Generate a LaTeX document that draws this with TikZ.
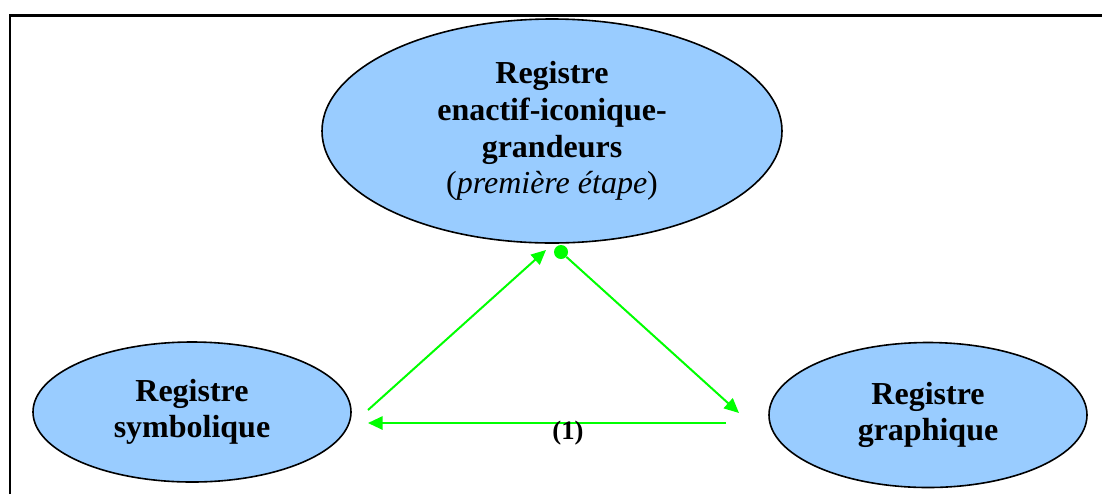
\documentclass[tikz,border=0pt]{standalone}
\usepackage{fontspec}
\setmainfont{Liberation Serif}
\usetikzlibrary{arrows.meta,shapes.geometric}
\definecolor{regblue}{HTML}{99CCFF}
\definecolor{linkgreen}{HTML}{00FF00}
\tikzset{
  regbox/.style={ellipse, draw=black, line width=1.2pt, fill=regblue, inner sep=0pt,
    align=center, font=\fontsize{24}{27.5}\selectfont\bfseries},
  link/.style={draw=linkgreen, line width=1.5pt},
  linkarrow/.style={link, -{Triangle[length=11pt,width=10pt]}},
  frameline/.style={draw=black, line width=1.6pt}
}
\begin{document}
\begin{tikzpicture}[x=0.75pt, y=-0.75pt]
\useasboundingbox (0,0) rectangle (1102,494);
\fill[white] (0,0) rectangle (1102,494);
\draw[frameline] (10,494) -- (10,15.5) -- (1102,15.5);

\node[regbox, minimum width=460*0.75pt, minimum height=224*0.75pt] (top) at (552,131)
  {Registre\\enactif-iconique-\\grandeurs\\{\mdseries(\textit{première étape})}};
\node[regbox, minimum width=318*0.75pt, minimum height=140*0.75pt] (sym) at (192,412)
  {Registre\\symbolique};
\node[regbox, minimum width=318*0.75pt, minimum height=145*0.75pt] (gra) at (928,415)
  {Registre\\graphique};

\node[circle, fill=linkgreen, inner sep=0pt, minimum size=14*0.75pt] (dot) at (561,252) {};

\coordinate (symup) at (368,410);
\coordinate (topin) at (546,250);
\coordinate (grain) at (739,413);
\coordinate (graout) at (726,423);
\coordinate (symin) at (368,423);

\draw[linkarrow] (symup) -- (topin);
\draw[linkarrow] (dot) -- (grain);
\draw[linkarrow] (graout) -- (symin);

\node[font=\fontsize{20}{24}\selectfont\bfseries, anchor=base] (lab) at (568,439) {(1)};
\end{tikzpicture}
\end{document}
